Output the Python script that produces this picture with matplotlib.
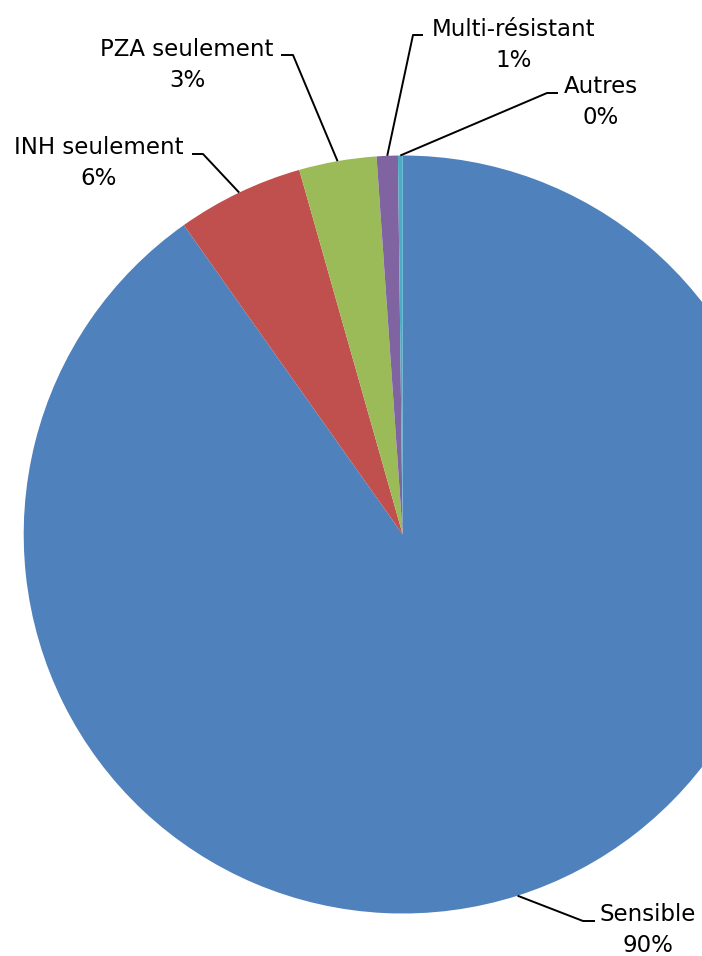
import numpy as np
import matplotlib
matplotlib.use("Agg")
import matplotlib.pyplot as plt

# données
categories = ["Sensible", "INH seulement", "PZA seulement", "Multi-résistant", "Autres"]
valeurs = [90.2, 5.4, 3.3, 0.9, 0.2]
etiquettes_pct = ["90%", "6%", "3%", "1%", "0%"]
couleurs = ["#4F81BD", "#C0504D", "#9BBB59", "#8064A2", "#4BACC6"]

H = 956
fig = plt.figure(figsize=(7.02, 9.56), dpi=100)
ax = fig.add_axes([0, 0, 1, 1])

# camembert (coordonnées en pixels, y vers le haut)
wedges, _ = ax.pie(valeurs, colors=couleurs, startangle=90, counterclock=False,
                   center=(402.7, H - 534.5), radius=379,
                   wedgeprops=dict(linewidth=0))

ax.set_xlim(0, 702)
ax.set_ylim(0, H)
ax.set_aspect("equal")
ax.axis("off")

# position des étiquettes (x centre, ligne de base de la 2e ligne) et du coude
positions = [(648, 952), (99, 185), (187, 87), (514, 67), (601, 124)]
coudes = [((595, 921), (583, 921)),
          ((192, 154), (203, 154)),
          ((281, 55), (293, 55)),
          ((423, 35), (413, 35)),
          ((558, 93), (547, 93))]

for w, cat, pct, (tx, ty), (p1, p2) in zip(wedges, categories, etiquettes_pct, positions, coudes):
    ang = np.deg2rad((w.theta1 + w.theta2) / 2)
    ax_x = w.center[0] + w.r * np.cos(ang)
    ax_y = w.center[1] + w.r * np.sin(ang)
    ax.plot([p1[0], p2[0], ax_x], [H - p1[1], H - p2[1], ax_y], color="black", lw=1.4,
            solid_capstyle="butt", zorder=3)
    ax.text(tx, H - ty, cat + "\n" + pct, ha="center", va="baseline", fontsize=16.5,
            family="DejaVu Sans", linespacing=1.42, multialignment="center")

fig.savefig("out.png", dpi=100)
